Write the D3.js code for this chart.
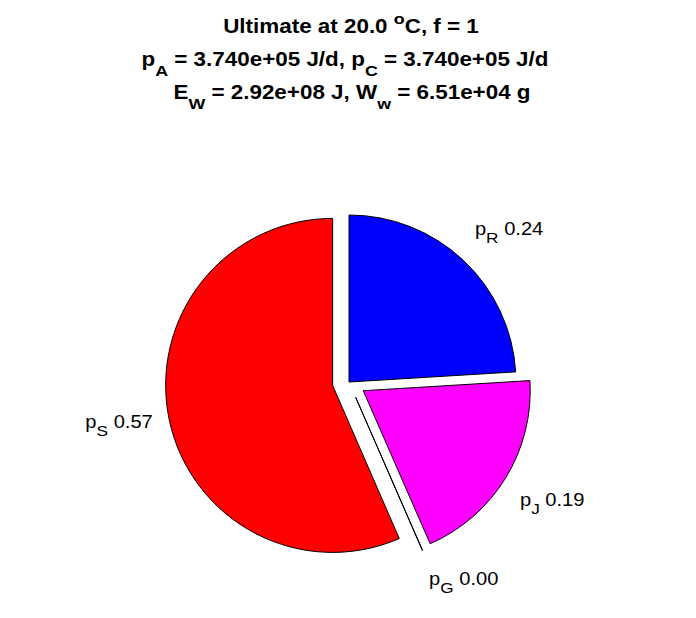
<!DOCTYPE html>
<html><head><meta charset="utf-8">
<script src="https://cdn.jsdelivr.net/npm/d3@7"></script>
<style>html,body{margin:0;padding:0;background:#fff}svg{display:block}</style>
</head><body>
<script>
// ---- data ----
const sliceNames = ["R", "J", "G", "S"];
const sliceValues = [0.2403, 0.194, 0.0003, 0.5652];
const sliceExploded = [0, 1, 1, 1];
const titleLine1 = [{t: "Ultimate at 20.0 "}, {t: "o", sup: true}, {t: "C, f = 1"}];
const titleLine2 = [{t: "p"}, {t: "A", sub: true}, {t: " = 3.740e+05 J/d, p"}, {t: "C", sub: true}, {t: " = 3.740e+05 J/d"}];
const titleLine3 = [{t: "E"}, {t: "W", sub: true}, {t: " = 2.92e+08 J, W"}, {t: "w", sub: true}, {t: " = 6.51e+04 g"}];

// ---- styles ----
const sliceColors = ["#0000ff", "#ff00ff", "#00c000", "#ff0000"];
const W = 696, H = 618;
const cx = 349, cy = 382, R = 167;
const FONT = "Liberation Sans, Arial, Helvetica, sans-serif";
const SX = 1.15;

const svg = d3.select("body").append("svg").attr("width", W).attr("height", H);
svg.append("rect").attr("width", W).attr("height", H).attr("fill", "#fff");

function richText(g, parts, opt) {
  const text = g.append("text")
    .attr("transform", `translate(${opt.x},${opt.y}) scale(${SX},1)`)
    .attr("text-anchor", opt.anchor || "start")
    .attr("font-family", FONT)
    .attr("font-size", opt.size)
    .attr("font-weight", opt.weight || "normal")
    .attr("fill", "#000");
  let carry = 0;
  parts.forEach(p => {
    const ts = text.append("tspan").text(p.t);
    if (p.sub) {
      ts.attr("dy", carry + opt.subDy).attr("font-size", opt.subSize);
      carry = -opt.subDy;
    } else if (p.sup) {
      ts.attr("dy", carry - opt.supDy).attr("font-size", opt.subSize);
      carry = opt.supDy;
    } else {
      if (carry) ts.attr("dy", carry);
      carry = 0;
    }
  });
  return text;
}

// ---- title ----
const titleG = svg.append("g");
const titleCenters = [351, 345, 352];
[titleLine1, titleLine2, titleLine3].forEach((line, i) => {
  richText(titleG, line, {x: titleCenters[i], y: 33 + i * 33, anchor: "middle", size: 19.5, weight: "bold", subSize: 15.5, subDy: 10, supDy: 9});
});

// ---- pie ----
const data = sliceNames.map((n, i) => ({name: n, v: sliceValues[i], ex: sliceExploded[i], color: sliceColors[i]}));
const pie = d3.pie().sort(null).value(d => d.v).startAngle(0).endAngle(2 * Math.PI);
const arcs = pie(data);
const arc = d3.arc().innerRadius(0).outerRadius(R);
const explodeDist = 0.1 * R;

const pieG = svg.append("g").attr("transform", `translate(${cx},${cy})`);
arcs.forEach(a => {
  const mid = (a.startAngle + a.endAngle) / 2;
  const dx = Math.sin(mid), dy = -Math.cos(mid);
  const off = a.data.ex ? explodeDist : 0;
  pieG.append("path")
    .attr("d", arc(a))
    .attr("transform", `translate(${dx * off},${dy * off})`)
    .attr("fill", a.data.color)
    .attr("stroke", "#000")
    .attr("stroke-width", 1)
    .attr("stroke-linejoin", "bevel");
});

// ---- labels ----
const labelG = svg.append("g");
arcs.forEach(a => {
  const mid = (a.startAngle + a.endAngle) / 2;
  const dx = Math.sin(mid), dy = -Math.cos(mid);
  const off = a.data.ex ? explodeDist : 0;
  const rr = 1.1 * R + off;
  const x = cx + dx * rr, y = cy + dy * rr;
  const anchor = dx >= 0 ? "start" : "end";
  let by;
  if (Math.abs(dy) < 0.5) by = y + 5.5;
  else if (dy < 0) by = y - 13;
  else by = y + 19.5;
  richText(labelG, [{t: "p"}, {t: a.data.name, sub: true}, {t: " " + a.data.v.toFixed(2)}],
    {x: x, y: by, anchor: anchor, size: 17.5, subSize: 15, subDy: 8});
});
</script>
</body></html>
